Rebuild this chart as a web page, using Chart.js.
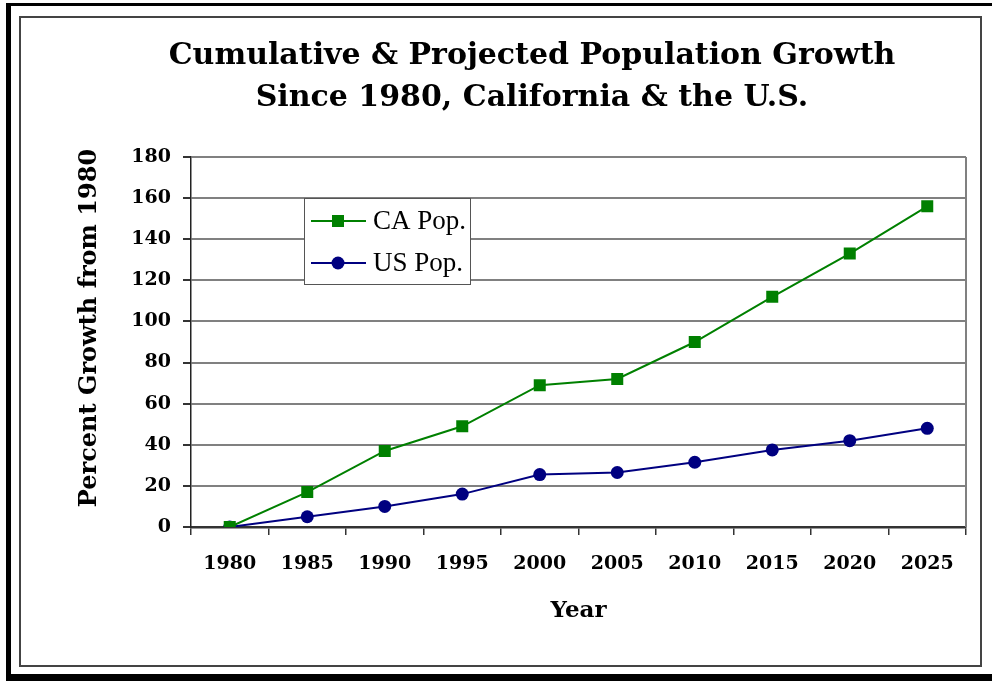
<!DOCTYPE html>
<html>
<head>
<meta charset="utf-8">
<script src="https://cdn.jsdelivr.net/npm/chart.js@4"></script>
<style>
  html, body { margin: 0; padding: 0; background: #fff; }
  #wrap { width: 992px; height: 681px; position: relative; }
</style>
</head>
<body>
<div id="wrap"><canvas id="chart"></canvas></div>
<script>
const years = ['1980', '1985', '1990', '1995', '2000', '2005', '2010', '2015', '2020', '2025'];
const caGrowth = [0, 17, 37, 49, 69, 72, 90, 112, 133, 156];
const usGrowth = [0, 5, 10, 16, 25.5, 26.5, 31.5, 37.5, 42, 48];
const titleLines = ['Cumulative & Projected Population Growth', 'Since 1980, California & the U.S.'];
const yTitle = 'Percent Growth from 1980';

const serifBold = { family: 'DejaVu Serif', weight: 'bold' };

// frames round the picture + right edge of plot area
const frames = {
  id: 'frames',
  beforeDraw(chart) {
    const ctx = chart.ctx;
    ctx.save();
    ctx.fillStyle = '#000';
    ctx.fillRect(6, 3, 986, 3);
    ctx.fillRect(6, 3, 5, 678);
    ctx.fillRect(6, 674, 986, 7);
    ctx.strokeStyle = '#444';
    ctx.lineWidth = 2;
    ctx.strokeRect(20, 17, 961, 649);
    ctx.restore();
  },
  beforeDatasetsDraw(chart) {
    const { ctx, chartArea } = chart;
    ctx.save();
    ctx.strokeStyle = '#808080';
    ctx.lineWidth = 2;
    ctx.beginPath();
    ctx.moveTo(chartArea.right, chartArea.top);
    ctx.lineTo(chartArea.right, chartArea.bottom);
    ctx.stroke();
    ctx.restore();
  },
  afterDraw(chart) {
    const ctx = chart.ctx;
    ctx.save();
    ctx.fillStyle = '#000';
    ctx.textAlign = 'center';
    ctx.textBaseline = 'middle';
    ctx.font = 'bold 30px "DejaVu Serif"';
    titleLines.forEach((t, i) => ctx.fillText(t, 532, 56 + i * 42));
    // y axis title, a bit above the plot centre as in the original
    ctx.translate(90, 328);
    ctx.rotate(-Math.PI / 2);
    ctx.font = 'bold 24px "DejaVu Serif"';
    ctx.fillText(yTitle, 0, 0);
    ctx.restore();
  }
};

// legend box inside the plot
const legendBox = {
  id: 'legendBox',
  afterDatasetsDraw(chart) {
    const { ctx, chartArea } = chart;
    const x = chartArea.left + 113, y = chartArea.top + 41;
    ctx.save();
    ctx.fillStyle = '#fff';
    ctx.fillRect(x, y, 166, 86);
    ctx.strokeStyle = '#555';
    ctx.lineWidth = 1;
    ctx.strokeRect(x + 0.5, y + 0.5, 166, 86);
    chart.data.datasets.forEach((ds, i) => {
      const ly = y + 23 + i * 42;
      ctx.strokeStyle = ds.borderColor;
      ctx.lineWidth = 2;
      ctx.beginPath();
      ctx.moveTo(x + 7, ly);
      ctx.lineTo(x + 62, ly);
      ctx.stroke();
      ctx.fillStyle = ds.backgroundColor;
      Chart.helpers.drawPoint(ctx, { pointStyle: ds.pointStyle, radius: ds.pointRadius, borderWidth: 0 }, x + 34, ly);
      ctx.fillStyle = '#000';
      ctx.font = '27px "Liberation Serif"';
      ctx.textBaseline = 'middle';
      ctx.fillText(ds.label, x + 69, ly + 1);
    });
    ctx.restore();
  }
};

new Chart(document.getElementById('chart'), {
  type: 'line',
  data: {
    labels: years,
    datasets: [
      {
        label: 'CA Pop.',
        data: caGrowth,
        borderColor: '#008000',
        backgroundColor: '#008000',
        borderWidth: 2,
        pointStyle: 'rect',
        pointRadius: 8.5,
        pointBorderWidth: 0,
      },
      {
        label: 'US Pop.',
        data: usGrowth,
        borderColor: '#000080',
        backgroundColor: '#000080',
        borderWidth: 2,
        pointStyle: 'circle',
        pointRadius: 6.5,
        pointBorderWidth: 0,
      },
    ],
  },
  options: {
    responsive: true,
    maintainAspectRatio: false,
    animation: false,
    events: [],
    layout: { padding: { left: 0, right: 26, top: 157, bottom: 0 } },
    plugins: {
      legend: { display: false },
      tooltip: { enabled: false },
      title: { display: false },
    },
    scales: {
      x: {
        offset: true,
        grid: { offset: true, drawOnChartArea: false, drawTicks: true, tickLength: 8, color: '#333', lineWidth: 1.5 },
        border: { display: true, color: '#333', width: 2.5 },
        ticks: { color: '#000', font: { ...serifBold, size: 19 }, padding: 18, maxRotation: 0 },
        title: { display: true, text: 'Year', color: '#000', font: { ...serifBold, size: 23 }, padding: { top: 0, bottom: 56 } },
        afterFit(scale) { scale.height = 154; },
      },
      y: {
        min: 0,
        max: 180,
        ticks: { stepSize: 20, color: '#000', font: { ...serifBold, size: 19 }, padding: 12 },
        grid: { color: '#808080', lineWidth: 2, tickLength: 8, tickColor: '#333' },
        border: { display: true, color: '#222', width: 1.5 },
        afterFit(scale) { scale.width = 191; },
      },
    },
  },
  plugins: [frames, legendBox],
});
</script>
</body>
</html>
